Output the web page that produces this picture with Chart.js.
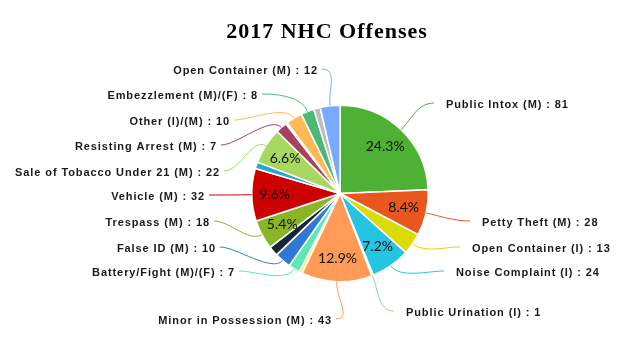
<!DOCTYPE html>
<html lang="en">
<head>
    <meta charset="UTF-8">
    <meta name="viewport" content="width=device-width, initial-scale=1.0">
    <title>2017 NHC Offenses</title>
    <script src="https://cdn.jsdelivr.net/npm/chart.js"></script>
    <style>
        html, body { margin: 0; padding: 0; background: #fff; }
        #wrap { width: 637px; height: 341px; position: relative; }
    </style>
</head>
<body>
    <div id="wrap"><canvas id="chart"></canvas></div>

    <script>
        // data, clockwise from 12 o'clock
        var chartTitle = '2017 NHC Offenses';
        var categories = [
            'Public Intox (M)', 'Petty Theft (M)', 'Open Container (I)', 'Noise Complaint (I)',
            'Public Urination (I)', 'Minor in Possession (M)', '', 'Battery/Fight (M)/(F)',
            'False ID (M)', '', 'Trespass (M)', 'Vehicle (M)', '', 'Sale of Tobacco Under 21 (M)',
            'Resisting Arrest (M)', '', 'Other (I)/(M)', 'Embezzlement (M)/(F)', '', 'Open Container (M)'
        ];
        var offenses = [81, 28, 13, 24, 1, 43, 2, 7, 10, 6, 18, 32, 4, 22, 7, 1, 10, 8, 4, 12];
        var sliceColors = [
            '#4eb133', '#e9571f', '#d9dc05', '#25c5e2', '#7fe07f', '#ff9a57', '#fff25e', '#5ee8b9',
            '#2f79d4', '#13263c', '#8ab625', '#cc0000', '#25aacb', '#a9d862', '#aa4060', '#a8c0f0',
            '#ffba55', '#4bb873', '#bcbcbc', '#78aaff'
        ];

        // where the outside labels sit (text edge x, centre y, side)
        var labelSpots = [
            [446, 105, 'r'], [482, 223, 'r'], [472, 249, 'r'], [456, 273, 'r'],
            [406, 313, 'r'], [332, 321, 'l'], null, [235, 273, 'l'],
            [216, 249, 'l'], null, [210, 223, 'l'], [205, 197, 'l'], null, [220, 173, 'l'],
            [217, 147, 'l'], null, [230, 122, 'l'], [258, 96, 'l'], null, [318, 71, 'l']
        ];

        var total = offenses.reduce(function (a, b) { return a + b; }, 0);

        var pieLabels = {
            id: 'pieLabels',
            afterDraw: function (chart) {
                var ctx = chart.ctx;
                var arcs = chart.getDatasetMeta(0).data;
                ctx.save();

                // title
                ctx.fillStyle = '#000';
                ctx.font = 'bold 22px "Liberation Serif"';
                ctx.letterSpacing = '1px';
                ctx.textAlign = 'center';
                ctx.textBaseline = 'middle';
                ctx.fillText(chartTitle, 327, 32);
                ctx.letterSpacing = '0px';

                arcs.forEach(function (arc, i) {
                    var mid = (arc.startAngle + arc.endAngle) / 2;
                    var cos = Math.cos(mid), sin = Math.sin(mid);
                    var R = arc.outerRadius;

                    // percent inside slice
                    if (offenses[i] / total >= 0.05) {
                        ctx.font = '14px Lato';
                        ctx.fillStyle = '#111';
                        ctx.textAlign = 'center';
                        ctx.textBaseline = 'middle';
                        ctx.fillText((offenses[i] / total * 100).toFixed(1) + '%',
                            arc.x + cos * R * 0.74, arc.y + sin * R * 0.74);
                    }

                    var spot = labelSpots[i];
                    if (!spot || !categories[i]) return;
                    var left = spot[2] === 'l';
                    var ex = left ? spot[0] + 4 : spot[0] - 12;
                    var ey = spot[1] - 2;
                    var dir = left ? 1 : -1;

                    // curved leader line
                    ctx.strokeStyle = sliceColors[i];
                    ctx.lineWidth = 1;
                    ctx.beginPath();
                    ctx.moveTo(arc.x + cos * R, arc.y + sin * R);
                    ctx.bezierCurveTo(arc.x + cos * (R + 16), arc.y + sin * (R + 16),
                        ex + dir * 16, ey, ex, ey);
                    ctx.stroke();

                    ctx.font = 'bold 11px "Liberation Sans"';
                    ctx.letterSpacing = '0.9px';
                    ctx.fillStyle = '#1a1a1a';
                    ctx.textAlign = left ? 'right' : 'left';
                    ctx.textBaseline = 'middle';
                    ctx.fillText(categories[i] + ' : ' + offenses[i], spot[0], spot[1]);
                    ctx.letterSpacing = '0px';
                });
                ctx.restore();
            }
        };

        var ctx = document.getElementById('chart').getContext('2d');
        var chart = new Chart(ctx, {
            type: 'pie',
            data: {
                labels: categories,
                datasets: [{
                    data: offenses,
                    backgroundColor: sliceColors,
                    borderColor: '#ffffff',
                    borderWidth: 1.5,
                    hoverOffset: 0
                }]
            },
            options: {
                responsive: true,
                maintainAspectRatio: false,
                animation: false,
                events: [],
                layout: {
                    padding: { top: 104, left: 251, right: 208, bottom: 58 }
                },
                plugins: {
                    legend: { display: false },
                    tooltip: { enabled: false },
                    title: { display: false }
                }
            },
            plugins: [pieLabels]
        });
    </script>
</body>
</html>
